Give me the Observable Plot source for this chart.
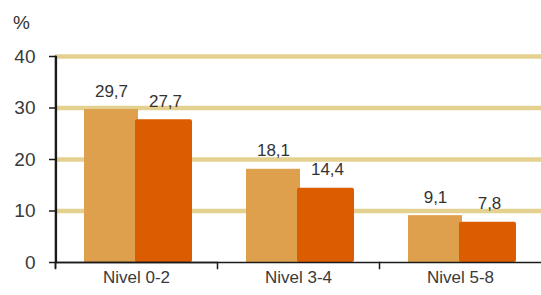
<!DOCTYPE html>
<html>
<head>
<meta charset="utf-8">
<script src="https://cdn.jsdelivr.net/npm/d3@7"></script>
<script src="https://cdn.jsdelivr.net/npm/@observablehq/plot@0.6"></script>
<style>
  html, body { margin: 0; padding: 0; background: #fff; }
  #wrap { position: relative; width: 541px; height: 295px; overflow: hidden; font-family: "Liberation Sans", Arial, sans-serif; }
  #unit { position: absolute; left: 13px; top: 12px; font-size: 19px; color: #333; }
  #chart { position: absolute; left: 0; top: 0; }
</style>
</head>
<body>
<div id="wrap">
  <div id="chart"></div>
  <div id="unit">%</div>
</div>
<script>
const categories = ["Nivel 0-2", "Nivel 3-4", "Nivel 5-8"];
const series = ["Serie 1", "Serie 2"];
const valuesSerie1 = [29.7, 18.1, 9.1];
const valuesSerie2 = [27.7, 14.4, 7.8];
const yTicks = [0, 10, 20, 30, 40];
const colors = ["#DEA04C", "#DC5C00"];

const data = categories.flatMap((c, i) => [
  {cat: c, s: series[0], v: valuesSerie1[i]},
  {cat: c, s: series[1], v: valuesSerie2[i]}
]);

// Left axis line drawn from the y scale, inside the first facet only
function drawAxisLine(index, scales, values, dimensions, context, next) {
  const g = next(index, scales, values, dimensions, context);
  const line = document.createElementNS("http://www.w3.org/2000/svg", "line");
  const x0 = dimensions.marginLeft + 0.5;
  line.setAttribute("x1", x0);
  line.setAttribute("x2", x0);
  line.setAttribute("y1", scales.y(yTicks[yTicks.length - 1]) - 1);
  line.setAttribute("y2", scales.y(yTicks[0]) + 6);
  line.setAttribute("stroke", "#1a1a1a");
  line.setAttribute("stroke-width", "1.6");
  g.appendChild(line);
  return g;
}

const chart = Plot.plot({
  width: 541,
  height: 295,
  marginLeft: 55,
  marginRight: 0,
  marginTop: 56,
  marginBottom: 33,
  style: {fontFamily: "'Liberation Sans', Arial, sans-serif", background: "transparent"},
  fx: {domain: categories, padding: 0, label: null},
  x: {domain: series, paddingInner: 0, paddingOuter: 0.473, align: 0.54, axis: null},
  y: {domain: [0, 40], ticks: yTicks, label: null},
  color: {domain: series, range: colors},
  marks: [
    Plot.ruleY(yTicks.filter(t => t > 0), {stroke: "#E4D18F", strokeWidth: 4.5}),
    Plot.barY(data.filter(d => d.s === series[0]), {fx: "cat", x: "s", y: "v", fill: "s"}),
    Plot.barY(data.filter(d => d.s === series[1]), {fx: "cat", x: "s", y: "v", fill: "s", insetLeft: -3, rx: 2}),
    Plot.text(data, {
      fx: "cat", x: "s", y: "v",
      text: d => d.v.toFixed(1).replace(".", ","),
      lineAnchor: "bottom", dy: -13, fontSize: 17, fill: "#333",
      style: "letter-spacing:1px"
    }),
    Plot.ruleY([0], {stroke: "#1a1a1a", strokeWidth: 1.5}),
    Plot.ruleY([{cat: categories[0], v: 0}], {fx: "cat", y: "v", stroke: "#1a1a1a", strokeWidth: 1.5, render: drawAxisLine}),
    Plot.frame({anchor: "left", facetAnchor: "left", insetLeft: 1, stroke: "#1a1a1a", strokeWidth: 1.2}),
    Plot.frame({anchor: "left", insetTop: 206, insetBottom: -6, stroke: "#1a1a1a", strokeWidth: 1.5}),
    Plot.axisY({ticks: yTicks, tickSize: 6, tickPadding: 14, fontSize: 19, stroke: "#1a1a1a", fill: "#3a3a3a", strokeWidth: 1.5}),
    Plot.axisFx({anchor: "bottom", tickSize: 0, tickPadding: 8, fontSize: 17, fill: "#3a3a3a", label: null, style: "letter-spacing:1px"})
  ]
});
document.getElementById("chart").appendChild(chart);
</script>
</body>
</html>
